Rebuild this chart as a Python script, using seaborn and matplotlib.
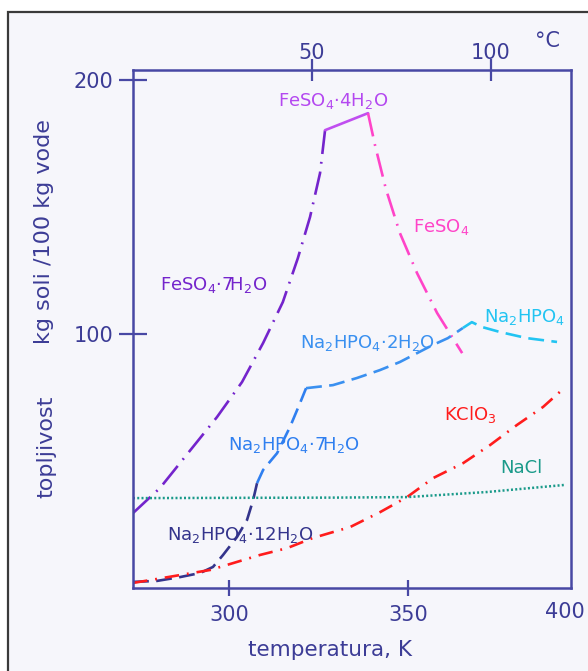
import numpy as np
import pandas as pd
import matplotlib
matplotlib.use("Agg")
import matplotlib.pyplot as plt
from matplotlib.patches import Rectangle
import seaborn as sns

# Solubility curves: temperature (K) and kg salt per 100 kg water
feso4_7_T = [273.15, 280.7, 288.5, 296.6, 303.6, 309.5, 315.0, 319.2, 322.6, 325.4, 326.8]
feso4_7_S = [29.5, 39.4, 53.1, 67.3, 81.1, 96.5, 112.6, 129.9, 146.1, 163.4, 180.3]

feso4_4_T = [326.8, 338.8]
feso4_4_S = [180.3, 187.0]

feso4_T = [338.8, 340.75, 343.8, 347.7, 352.5, 358.1, 365.1]
feso4_S = [187.0, 174.4, 157.1, 139.8, 124.0, 108.3, 92.5]

na12_T = [273.15, 279.9, 286.3, 291.9, 295.5, 298.3, 302.2, 305.0, 306.7, 307.8]
na12_S = [2.4, 2.8, 4.3, 5.9, 8.3, 13.0, 20.1, 26.8, 34.6, 41.3]

na7_T = [307.8, 309.5, 313.4, 317.0, 319.8, 321.5]
na7_S = [41.3, 46.5, 53.1, 63.4, 72.8, 78.7]

na2_T = [321.5, 329.0, 335.7, 342.1, 347.7, 352.5, 356.9, 361.1, 365.3]
na2_S = [78.7, 79.9, 82.7, 85.8, 89.0, 92.5, 95.7, 98.4, 102.4]

na0_T = [365.3, 367.8, 370.6, 375.7, 383.2, 391.6]
na0_S = [102.4, 104.7, 102.8, 100.8, 98.4, 96.9]

kclo3_T = [273.15, 277.9, 286.3, 294.7, 301.1, 308.6, 316.2, 323.4, 333.8,
           342.2, 349.7, 357.0, 365.4, 372.9, 380.4, 387.7, 393.0]
kclo3_S = [2.0, 3.1, 5.1, 7.1, 9.8, 13.0, 15.7, 19.7, 24.0,
           29.9, 35.8, 43.3, 49.2, 56.3, 64.2, 71.3, 78.0]

nacl_T = [273.15, 300.0, 330.0, 349.7, 372.0, 393.8]
nacl_S = [35.4, 35.5, 35.6, 35.8, 37.8, 40.6]

x_ticks_K = [300, 350]
x_ticks_C = [50, 100]
y_ticks = [100, 200]

AX_COL = "#4848a4"
TXT_COL = "#3c3c96"
BG = "#f6f6fb"

sns.set_theme(style="white")
plt.rcParams["font.family"] = ["DejaVu Sans"]

fig = plt.figure(figsize=(5.88, 6.71), dpi=100, facecolor="white")
fig.patches.append(Rectangle((8 / 588, -0.01), 1.0, (671 - 12) / 671 + 0.01,
                             transform=fig.transFigure, facecolor=BG,
                             edgecolor="#3a3a3a", linewidth=1.6, zorder=-10))

ax = fig.add_axes([133 / 588, (671 - 588) / 671, (571 - 133) / 588, (588 - 70) / 671])
ax.set_facecolor(BG)
ax.set_zorder(5)

def curve(T, S, color, ls, lw=1.9):
    df = pd.DataFrame({"T": T, "S": S})
    sns.lineplot(data=df, x="T", y="S", ax=ax, color=color, sort=False,
                 linestyle=ls, linewidth=lw, estimator=None)

long_dashdot = (0, (9, 3, 0.7, 3))
short_dashdot = (0, (5.5, 3, 0.7, 3))
dashed = (0, (6, 2.8))
curve(feso4_7_T, feso4_7_S, "#7424cc", long_dashdot)
curve(feso4_4_T, feso4_4_S, "#c04ef0", "-")
curve(feso4_T, feso4_S, "#ff44c8", long_dashdot)
curve(na12_T, na12_S, "#34348c", dashed)
curve(na7_T, na7_S, "#2f7ff0", dashed)
curve(na2_T, na2_S, "#3a90f0", dashed)
curve(na0_T, na0_S, "#22c4f2", dashed)
curve(kclo3_T, kclo3_S, "#ff1c1c", short_dashdot)
curve(nacl_T, nacl_S, "#1a9a8a", (0, (0.8, 0.9)), lw=1.8)

ax.set_xlim(273.15, 395.5)
ax.set_ylim(0, 204)
ax.set_xlabel("")
ax.set_ylabel("")

for sp in ax.spines.values():
    sp.set_color(AX_COL)
    sp.set_linewidth(1.8)

ax.set_xticks(x_ticks_K)
ax.set_xticklabels([str(v) for v in x_ticks_K])
ax.set_yticks(y_ticks)
ax.set_yticklabels([str(v) for v in y_ticks])
ax.tick_params(axis="x", direction="inout", length=12, width=1.6, color=AX_COL,
               labelcolor=TXT_COL, labelsize=15, pad=6, bottom=True)
ax.tick_params(axis="y", direction="inout", length=20, width=1.6, color=AX_COL,
               labelcolor=TXT_COL, labelsize=15, pad=4, left=True)

top = ax.secondary_xaxis("top", functions=(lambda k: k - 273.15, lambda c: c + 273.15))
top.set_xticks(x_ticks_C)
top.set_xticklabels([str(v) for v in x_ticks_C])
top.tick_params(direction="inout", length=16, width=1.6, color=AX_COL,
                labelcolor=TXT_COL, labelsize=15, pad=-3)
top.spines["top"].set_visible(False)

ax.text(393.8, -9.4, "400", color=TXT_COL, fontsize=15, ha="center", va="center",
        clip_on=False)
ax.text(388.8, 215.5, "°C", color=TXT_COL, fontsize=15, ha="center", va="center",
        clip_on=False)

fig.text(330 / 588, 1 - 650 / 671, "temperatura, K", color=TXT_COL, fontsize=15.5,
         ha="center", va="center")
fig.text(44 / 588, 1 - 232 / 671, "kg soli /100 kg vode", color=TXT_COL, fontsize=16,
         rotation=90, ha="center", va="center")
fig.text(46 / 588, 1 - 447 / 671, "topljivost", color=TXT_COL, fontsize=16,
         rotation=90, ha="center", va="center")

lab = dict(fontsize=13, va="center", ha="left")
ax.text(313.7, 191.7, "FeSO$_4$·4H$_2$O", color="#b448f0", **lab)
ax.text(351.4, 142.1, "FeSO$_4$", color="#ff44c8", **lab)
ax.text(280.7, 119.3, "FeSO$_4$·7H$_2$O", color="#7424cc", **lab)
ax.text(319.8, 96.5, "Na$_2$HPO$_4$·2H$_2$O", color="#3a90f0", **lab)
ax.text(371.2, 106.7, "Na$_2$HPO$_4$", color="#22c4f2", **lab)
ax.text(360.0, 68.5, "KClO$_3$", color="#ff1c1c", **lab)
ax.text(299.7, 56.3, "Na$_2$HPO$_4$·7H$_2$O", color="#2f7ff0", **lab)
ax.text(375.7, 47.2, "NaCl", color="#1a9a8a", **lab)
ax.text(282.6, 20.9, "Na$_2$HPO$_4$·12H$_2$O", color="#34348c", **lab)

fig.savefig("out.png", dpi=100, facecolor="white")
